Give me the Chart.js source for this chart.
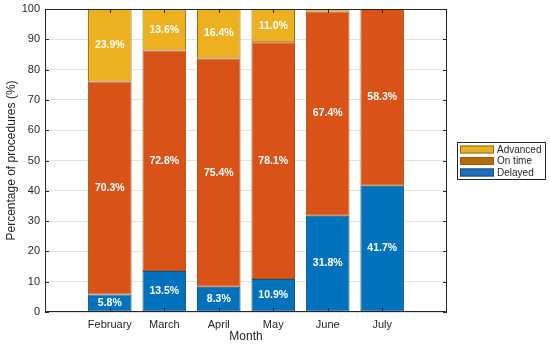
<!DOCTYPE html>
<html>
<head>
<meta charset="utf-8">
<script src="https://cdn.jsdelivr.net/npm/chart.js@4"></script>
<style>
  html, body { margin:0; padding:0; background:#fff; }
  #wrap { width:550px; height:345px; }
</style>
</head>
<body>
<div id="wrap"><canvas id="c" width="550" height="345"></canvas></div>
<script>
// data
const months = ['February', 'March', 'April', 'May', 'June', 'July'];
const delayed = [5.8, 13.5, 8.3, 10.9, 31.8, 41.7];
const onTime = [70.3, 72.8, 75.4, 78.1, 67.4, 58.3];
const advanced = [23.9, 13.6, 16.4, 11.0, 0.8, 0.0];
const yTicks = [0, 10, 20, 30, 40, 50, 60, 70, 80, 90, 100];

const FONT = '"Liberation Sans", Arial, Helvetica, sans-serif';
const INK = '#262626';

const series = [
  { label:'Delayed', data:delayed, color:'#0072BD', edge:'#1d4f7a', legend:'#1f6fc0' },
  { label:'On time', data:onTime, color:'#D95319', edge:'#a5560f', legend:'#b06c0a' },
  { label:'Advanced', data:advanced, color:'#EDB120', edge:'#9a6a12', legend:'#e6b12a' }
];

const toPoints = arr => arr.map((v,i)=>({ x:i+1, y:v }));

// labels inside segments, box with inward ticks, axis titles, legend
const decor = {
  id:'decor',
  afterDatasetsDraw(chart){
    const ctx = chart.ctx;
    const a = chart.chartArea;
    const xs = chart.scales.x, ys = chart.scales.y;

    // segment labels
    ctx.save();
    ctx.fillStyle = '#ffffff';
    ctx.font = 'bold 10.5px ' + FONT;
    ctx.textAlign = 'center';
    ctx.textBaseline = 'middle';
    chart.data.datasets.forEach((ds, di)=>{
      const meta = chart.getDatasetMeta(di);
      meta.data.forEach((bar, i)=>{
        const v = ds.data[i].y;
        if (v < 2) return;
        const p = bar.getProps(['x','y','base'], true);
        ctx.fillText(v.toFixed(1) + '%', p.x, (p.y + p.base)/2);
      });
    });
    ctx.restore();

    // box and inward ticks
    ctx.save();
    ctx.strokeStyle = INK;
    ctx.lineWidth = 1;
    ctx.strokeRect(a.left + 0.5, a.top + 0.5, a.right - a.left - 1, a.bottom - a.top - 1);
    ctx.beginPath();
    yTicks.forEach(t=>{
      const y = Math.round(ys.getPixelForValue(t)) + 0.5;
      ctx.moveTo(a.left, y); ctx.lineTo(a.left + 4, y);
      ctx.moveTo(a.right, y); ctx.lineTo(a.right - 4, y);
    });
    months.forEach((m, i)=>{
      const x = Math.round(xs.getPixelForValue(i+1)) + 0.5;
      ctx.moveTo(x, a.bottom); ctx.lineTo(x, a.bottom - 4);
      ctx.moveTo(x, a.top); ctx.lineTo(x, a.top + 4);
    });
    ctx.stroke();

    // axis titles
    ctx.fillStyle = INK;
    ctx.font = '12px ' + FONT;
    ctx.textAlign = 'center';
    ctx.textBaseline = 'middle';
    ctx.fillText('Month', (a.left + a.right)/2, 337);
    ctx.translate(12, (a.top + a.bottom)/2);
    ctx.rotate(-Math.PI/2);
    ctx.fillText('Percentage of procedures (%)', 0, 0);
    ctx.restore();

    // legend (top entry = last series)
    ctx.save();
    const lx = 457, ly = 142, lw = 88, lh = 37;
    ctx.fillStyle = '#fff';
    ctx.fillRect(lx, ly, lw, lh);
    ctx.strokeStyle = INK;
    ctx.lineWidth = 1;
    ctx.strokeRect(lx + 0.5, ly + 0.5, lw, lh);
    ctx.font = '10px ' + FONT;
    ctx.textAlign = 'left';
    ctx.textBaseline = 'middle';
    series.slice().reverse().forEach((s, k)=>{
      const cy = ly + 7.5 + k * 11.5;
      ctx.fillStyle = s.legend;
      ctx.fillRect(lx + 3, cy - 4, 34, 8);
      ctx.strokeStyle = s.edge;
      ctx.strokeRect(lx + 3.5, cy - 3.5, 33, 7);
      ctx.fillStyle = INK;
      ctx.fillText(s.label, lx + 40, cy + 0.5);
    });
    ctx.restore();
  }
};

new Chart(document.getElementById('c'), {
  type:'bar',
  data:{
    datasets: series.map(s=>({
      label:s.label,
      data:toPoints(s.data),
      backgroundColor:s.color,
      borderColor:s.edge,
      borderWidth:1,
      borderSkipped:false,
      barPercentage:0.8,
      categoryPercentage:1
    }))
  },
  options:{
    responsive:false,
    animation:false,
    layout:{ padding:{ left:0, top:9, right:103, bottom:0 } },
    plugins:{ legend:{ display:false }, tooltip:{ enabled:false } },
    scales:{
      x:{
        type:'linear',
        stacked:true,
        offset:false,
        min:-0.19,
        max:7.19,
        afterBuildTicks: sc => { sc.ticks = months.map((m,i)=>({ value:i+1 })); },
        afterFit: sc => { sc.height = 33; sc.paddingLeft = 0; sc.paddingRight = 0; },
        grid:{ display:false, drawTicks:false },
        border:{ display:false },
        ticks:{
          padding:6,
          color:INK,
          font:{ family:FONT, size:11 },
          autoSkip:false,
          maxRotation:0,
          callback: v => months[v-1] || ''
        }
      },
      y:{
        stacked:true,
        min:0,
        max:100,
        afterBuildTicks: sc => { sc.ticks = yTicks.map(v=>({ value:v })); },
        afterFit: sc => { sc.width = 45; sc.paddingTop = 0; sc.paddingBottom = 0; },
        grid:{ color:'#e3e3e3', drawTicks:false },
        border:{ display:false },
        ticks:{
          padding:5,
          color:INK,
          font:{ family:FONT, size:11 }
        }
      }
    }
  },
  plugins:[decor]
});
</script>
</body>
</html>
